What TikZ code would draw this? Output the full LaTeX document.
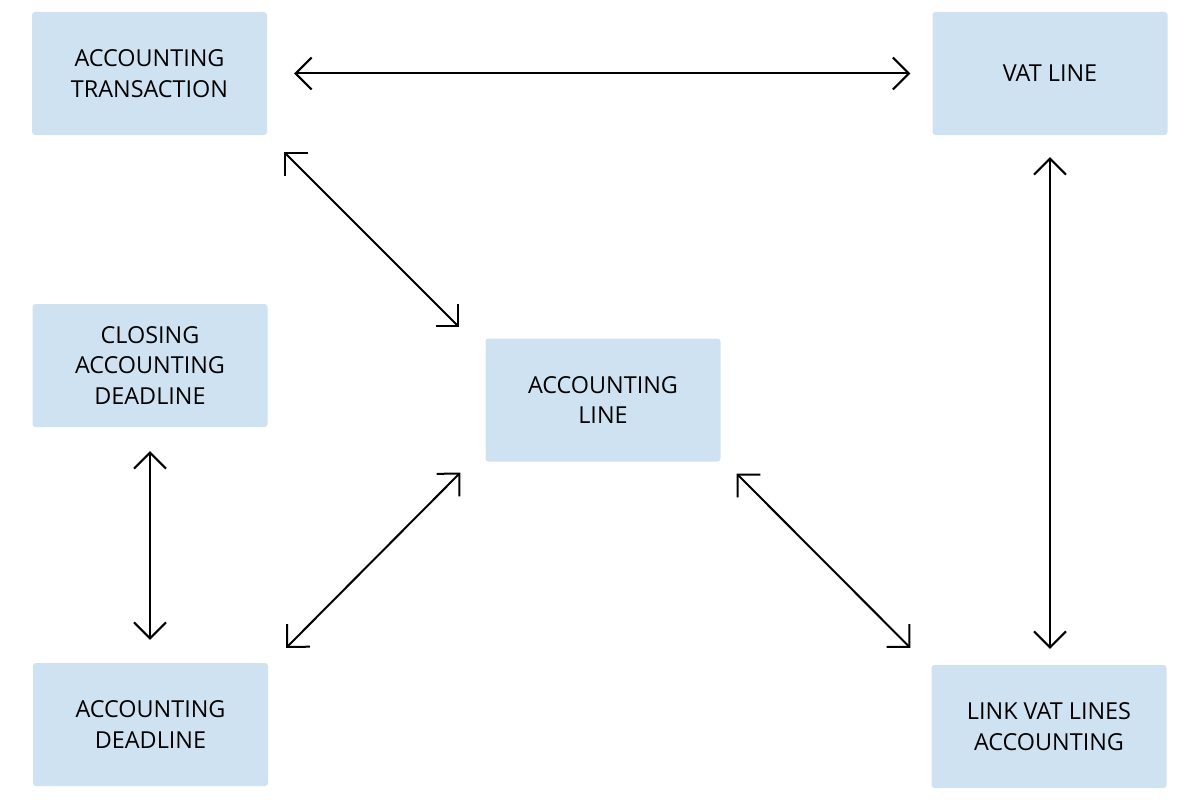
\documentclass[tikz,border=0pt]{standalone}
\usepackage{fontspec}
\setmainfont{Open Sans}
\usetikzlibrary{arrows.meta,calc}
\definecolor{boxblue}{HTML}{CFE2F2}
\begin{document}
\begin{tikzpicture}[x=1pt,y=-1pt,
  box/.style={fill=boxblue, rounded corners=3pt, minimum width=235pt, minimum height=123pt,
    align=center, inner sep=0pt, font=\fontsize{23.4}{30.5}\selectfont},
  link/.style={line width=2pt, {Straight Barb[length=16pt,width=32pt,line width=2pt]}-{Straight Barb[length=16pt,width=32pt,line width=2pt]}}]
\useasboundingbox[fill=white] (0,0) rectangle (1200,800);
\node[box] (at) at (149.5,73.5) {ACCOUNTING\\TRANSACTION};
\node[box] (vat) at (1050,73.5) {VAT LINE};
\node[box] (cl) at (150,365.5) {CLOSING\\ACCOUNTING\\DEADLINE};
\node[box] (al) at (603,400) {ACCOUNTING\\LINE};
\node[box] (ad) at (150.5,724.5) {ACCOUNTING\\DEADLINE};
\node[box] (lk) at (1049,726.5) {LINK VAT LINES\\ACCOUNTING};
\draw[link] ($(at.east)+(27,0)$) -- ($(vat.west)+(-22,0)$);
\draw[link] ($(at.south east)+(17,17)$) -- ($(al.north west)+(-26,-11)$);
\draw[link] ($(cl.south)+(0,24)$) -- ($(ad.north)+(-0.5,-23)$);
\draw[link] ($(ad.north east)+(18,-15)$) -- ($(al.south west)+(-25,11)$);
\draw[link] ($(al.south east)+(16,12)$) -- ($(lk.north west)+(-21,-17)$);
\draw[link] ($(vat.south)+(0,22)$) -- ($(lk.north)+(1,-16)$);
\end{tikzpicture}
\end{document}
